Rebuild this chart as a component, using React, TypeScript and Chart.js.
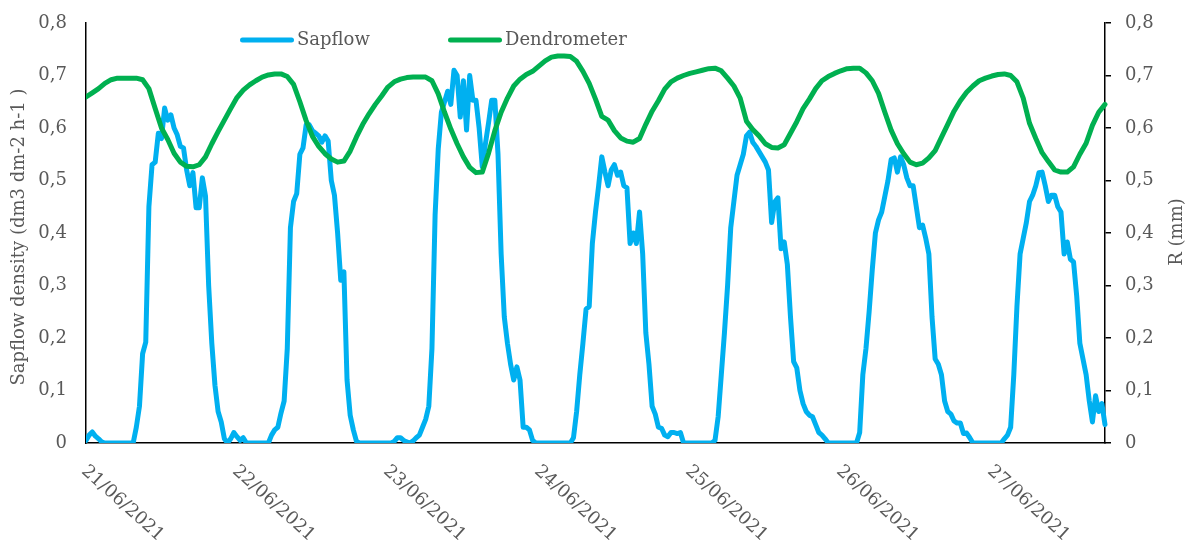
import React, { useEffect, useRef } from 'react';
import { Chart, registerables } from 'chart.js';

Chart.register(...registerables);

const FONT = "'DejaVu Serif', serif";
const TEXT_COLOR = '#595959';
const SAP_COLOR = '#00B0F0';
const DENDRO_COLOR = '#00B050';

// Day tick positions (hours since 21/06/2021 00:00) and their labels
const dayTicks = [0, 24, 48, 72, 96, 120, 144];
const dayLabels = ['21/06/2021', '22/06/2021', '23/06/2021', '24/06/2021', '25/06/2021', '26/06/2021', '27/06/2021'];

const yTickValues = [0, 0.1, 0.2, 0.3, 0.4, 0.5, 0.6, 0.7, 0.8];

const seriesNames = ['Sapflow', 'Dendrometer'];
const leftTitle = 'Sapflow density (dm3 dm-2 h-1 )';
const rightTitle = 'R (mm)';

// Sapflow density, one value every 30 minutes from 21/06 00:00
const sapflowStepHours = 0.5;
const sapflow = [
  // 21/06
  0.005, 0.015, 0.021, 0.013, 0.008, 0.002, 0, 0, 0, 0, 0, 0, 0, 0, 0, 0,
  0.03, 0.07, 0.17, 0.192, 0.45, 0.53, 0.535, 0.59, 0.58, 0.638, 0.615, 0.625, 0.6, 0.587, 0.565, 0.562,
  0.52, 0.49, 0.515, 0.448, 0.448, 0.505, 0.47, 0.3, 0.19, 0.11, 0.06, 0.04, 0.008, 0, 0.008, 0.02,
  // 22/06
  0.012, 0.005, 0.01, 0, 0, 0, 0, 0, 0, 0, 0, 0.015, 0.025, 0.03, 0.057, 0.08,
  0.18, 0.41, 0.46, 0.475, 0.55, 0.562, 0.606, 0.606, 0.595, 0.59, 0.585, 0.573, 0.585, 0.575, 0.5, 0.472,
  0.4, 0.31, 0.326, 0.12, 0.053, 0.025, 0.003, 0, 0, 0, 0, 0, 0, 0, 0, 0,
  // 23/06
  0, 0, 0.003, 0.01, 0.01, 0.005, 0.002, 0, 0.004, 0.01, 0.015, 0.03, 0.045, 0.07, 0.18, 0.434,
  0.56, 0.63, 0.65, 0.67, 0.645, 0.71, 0.7, 0.621, 0.69, 0.596, 0.7, 0.653, 0.653, 0.6, 0.526, 0.57,
  0.61, 0.653, 0.653, 0.55, 0.36, 0.24, 0.19, 0.15, 0.12, 0.145, 0.12, 0.03, 0.03, 0.025, 0.005, 0,
  // 24/06
  0, 0, 0, 0, 0, 0, 0, 0, 0, 0, 0, 0.01, 0.06, 0.13, 0.19, 0.255,
  0.26, 0.38, 0.44, 0.49, 0.545, 0.516, 0.49, 0.52, 0.53, 0.51, 0.516, 0.49, 0.486, 0.38, 0.4, 0.38,
  0.44, 0.36, 0.21, 0.15, 0.07, 0.055, 0.03, 0.028, 0.015, 0.012, 0.02, 0.02, 0.018, 0.02, 0, 0,
  // 25/06
  0, 0, 0, 0, 0, 0, 0, 0, 0.005, 0.05, 0.13, 0.21, 0.3, 0.41, 0.46, 0.51,
  0.53, 0.55, 0.585, 0.592, 0.573, 0.565, 0.555, 0.545, 0.535, 0.52, 0.42, 0.459, 0.467, 0.37, 0.383, 0.34,
  0.24, 0.155, 0.143, 0.1, 0.075, 0.06, 0.053, 0.05, 0.035, 0.02, 0.015, 0.008, 0, 0, 0, 0,
  // 26/06
  0, 0, 0, 0, 0, 0, 0.02, 0.13, 0.18, 0.25, 0.33, 0.4, 0.425, 0.44, 0.47, 0.5,
  0.54, 0.543, 0.516, 0.545, 0.53, 0.505, 0.49, 0.49, 0.45, 0.41, 0.415, 0.39, 0.36, 0.24, 0.16, 0.15,
  0.13, 0.08, 0.06, 0.055, 0.042, 0.038, 0.038, 0.018, 0.019, 0.01, 0, 0, 0, 0, 0, 0,
  // 27/06
  0, 0, 0, 0, 0.008, 0.015, 0.03, 0.13, 0.26, 0.36, 0.39, 0.42, 0.46, 0.472, 0.49, 0.515,
  0.516, 0.49, 0.46, 0.472, 0.472, 0.45, 0.44, 0.36, 0.383, 0.35, 0.345, 0.28, 0.19, 0.16, 0.13, 0.08,
  0.04, 0.09, 0.06, 0.075, 0.035,
];

// Dendrometer R (mm), one value every hour from 21/06 00:00
const dendroStepHours = 1;
const dendrometer = [
  // 21/06
  0.659, 0.667, 0.675, 0.685, 0.692, 0.695, 0.695, 0.695, 0.695, 0.692, 0.675, 0.637,
  0.6, 0.578, 0.552, 0.535, 0.527, 0.526, 0.53, 0.545, 0.57, 0.593, 0.615, 0.637,
  // 22/06
  0.658, 0.672, 0.682, 0.69, 0.697, 0.701, 0.703, 0.703, 0.698, 0.683, 0.65, 0.614,
  0.584, 0.565, 0.551, 0.541, 0.535, 0.537, 0.556, 0.583, 0.607, 0.627, 0.645, 0.661,
  // 23/06
  0.678, 0.688, 0.693, 0.696, 0.697, 0.697, 0.697, 0.69, 0.665, 0.63, 0.598, 0.57,
  0.545, 0.525, 0.515, 0.516, 0.552, 0.595, 0.63, 0.657, 0.68, 0.693, 0.702, 0.708,
  // 24/06
  0.718, 0.728, 0.735, 0.737, 0.737, 0.736, 0.727, 0.708, 0.685, 0.655, 0.622, 0.615,
  0.595, 0.581, 0.575, 0.573, 0.58, 0.607, 0.632, 0.652, 0.674, 0.688, 0.695, 0.7,
  // 25/06
  0.704, 0.707, 0.71, 0.713, 0.714, 0.709, 0.695, 0.68, 0.657, 0.613, 0.597, 0.585,
  0.57, 0.563, 0.562, 0.568, 0.59, 0.612, 0.637, 0.655, 0.675, 0.69, 0.698, 0.704,
  // 26/06
  0.709, 0.713, 0.714, 0.714, 0.705, 0.69, 0.666, 0.63, 0.596, 0.57, 0.551, 0.535,
  0.53, 0.533, 0.543, 0.557, 0.582, 0.607, 0.632, 0.652, 0.668, 0.68, 0.69, 0.695,
  // 27/06
  0.699, 0.702, 0.703, 0.7, 0.688, 0.657, 0.609, 0.58, 0.553, 0.536, 0.52, 0.516,
  0.516, 0.526, 0.55, 0.571, 0.605, 0.63, 0.645,
];

const X_MAX_HOURS = 162;

const fmtTick = (v: number) => (Math.abs(v) < 1e-9 ? '0' : v.toFixed(1).replace('.', ','));

const overlayPlugin = {
  id: 'overlay',
  afterDraw(chart: any) {
    const { ctx, chartArea, scales } = chart;
    const xs = scales.x;
    ctx.save();
    ctx.fillStyle = TEXT_COLOR;
    ctx.font = `18px ${FONT}`;

    // rotated date labels
    dayTicks.forEach((h, i) => {
      const px = xs.getPixelForValue(h);
      ctx.save();
      ctx.translate(px + 4, chartArea.bottom + 19);
      ctx.rotate((42 * Math.PI) / 180);
      ctx.textAlign = 'left';
      ctx.textBaseline = 'top';
      ctx.fillText(dayLabels[i], 0, 0);
      ctx.restore();
    });

    // left axis title
    ctx.save();
    ctx.translate(19, 237);
    ctx.rotate(-Math.PI / 2);
    ctx.textAlign = 'center';
    ctx.textBaseline = 'middle';
    ctx.fillText(leftTitle, 0, 0);
    ctx.restore();

    // right axis title
    ctx.save();
    ctx.translate(1177, 232);
    ctx.rotate(-Math.PI / 2);
    ctx.textAlign = 'center';
    ctx.textBaseline = 'middle';
    ctx.fillText(rightTitle, 0, 0);
    ctx.restore();

    // legend
    const legendY = 40;
    const items = [
      { x: 240, color: SAP_COLOR, label: seriesNames[0] },
      { x: 448, color: DENDRO_COLOR, label: seriesNames[1] },
    ];
    items.forEach((it) => {
      ctx.save();
      ctx.strokeStyle = it.color;
      ctx.lineWidth = 5;
      ctx.lineCap = 'round';
      ctx.beginPath();
      ctx.moveTo(it.x + 2.5, legendY);
      ctx.lineTo(it.x + 51.5, legendY);
      ctx.stroke();
      ctx.restore();
      ctx.textAlign = 'left';
      ctx.textBaseline = 'middle';
      ctx.fillText(it.label, it.x + 57, legendY);
    });
    ctx.restore();
  },
};

export default function App() {
  const canvasRef = useRef<HTMLCanvasElement | null>(null);

  useEffect(() => {
    if (!canvasRef.current) return;
    Chart.defaults.font.family = FONT;
    const chart = new Chart(canvasRef.current, {
      type: 'line',
      data: {
        datasets: [
          {
            label: seriesNames[0],
            data: sapflow.map((v, i) => ({ x: i * sapflowStepHours, y: v })),
            borderColor: SAP_COLOR,
            backgroundColor: SAP_COLOR,
            borderWidth: 5,
            pointRadius: 0,
            tension: 0,
            borderJoinStyle: 'round',
            borderCapStyle: 'round',
            yAxisID: 'y',
            order: 2,
            clip: { left: 0, top: 5, right: 3, bottom: 0 },
          },
          {
            label: seriesNames[1],
            data: dendrometer.map((v, i) => ({ x: i * dendroStepHours, y: v })),
            borderColor: DENDRO_COLOR,
            backgroundColor: DENDRO_COLOR,
            borderWidth: 5,
            pointRadius: 0,
            tension: 0,
            borderJoinStyle: 'round',
            borderCapStyle: 'round',
            yAxisID: 'y1',
            order: 1,
            clip: { left: 0, top: 5, right: 3, bottom: 0 },
          },
        ],
      },
      options: {
        animation: false,
        responsive: true,
        maintainAspectRatio: false,
        layout: { padding: { top: 23, left: 0, right: 0, bottom: 0 } },
        plugins: {
          legend: { display: false },
          tooltip: { enabled: false },
          title: { display: false },
        },
        scales: {
          x: {
            type: 'linear',
            min: 0,
            max: X_MAX_HOURS,
            afterBuildTicks: (scale: any) => {
              scale.ticks = dayTicks.map((v) => ({ value: v }));
            },
            ticks: { display: false },
            grid: { display: true, drawOnChartArea: false, drawTicks: false },
            border: { display: true, color: '#000000', width: 1.5 },
            afterFit: (scale: any) => {
              scale.height = 112;
              scale.paddingLeft = 0;
              scale.paddingRight = 0;
            },
          },
          y: {
            type: 'linear',
            position: 'left',
            min: 0,
            max: 0.8,
            afterBuildTicks: (scale: any) => {
              scale.ticks = yTickValues.map((v) => ({ value: v }));
            },
            ticks: {
              color: TEXT_COLOR,
              font: { family: FONT, size: 18 },
              padding: 19,
              callback: (v: any) => fmtTick(Number(v)),
            },
            grid: { display: true, drawOnChartArea: false, drawTicks: false },
            border: { display: true, color: '#000000', width: 1.5 },
            afterFit: (scale: any) => {
              scale.width = 86;
              scale.paddingTop = 0;
              scale.paddingBottom = 0;
            },
          },
          y1: {
            type: 'linear',
            position: 'right',
            min: 0,
            max: 0.8,
            afterBuildTicks: (scale: any) => {
              scale.ticks = yTickValues.map((v) => ({ value: v }));
            },
            ticks: {
              color: TEXT_COLOR,
              font: { family: FONT, size: 18 },
              padding: 14,
              callback: (v: any) => fmtTick(Number(v)),
            },
            grid: {
              display: true,
              drawOnChartArea: false,
              drawTicks: true,
              tickLength: 6,
              color: '#000000',
              lineWidth: 1.5,
            },
            border: { display: true, color: '#000000', width: 1.5 },
            afterFit: (scale: any) => {
              scale.width = 87;
              scale.paddingTop = 0;
              scale.paddingBottom = 0;
            },
          },
        },
      },
      plugins: [overlayPlugin],
    } as any);
    return () => chart.destroy();
  }, []);

  return (
    <div style={{ position: 'absolute', left: 0, top: 0, width: 1192, height: 555, background: '#ffffff' }}>
      <canvas ref={canvasRef} />
    </div>
  );
}
